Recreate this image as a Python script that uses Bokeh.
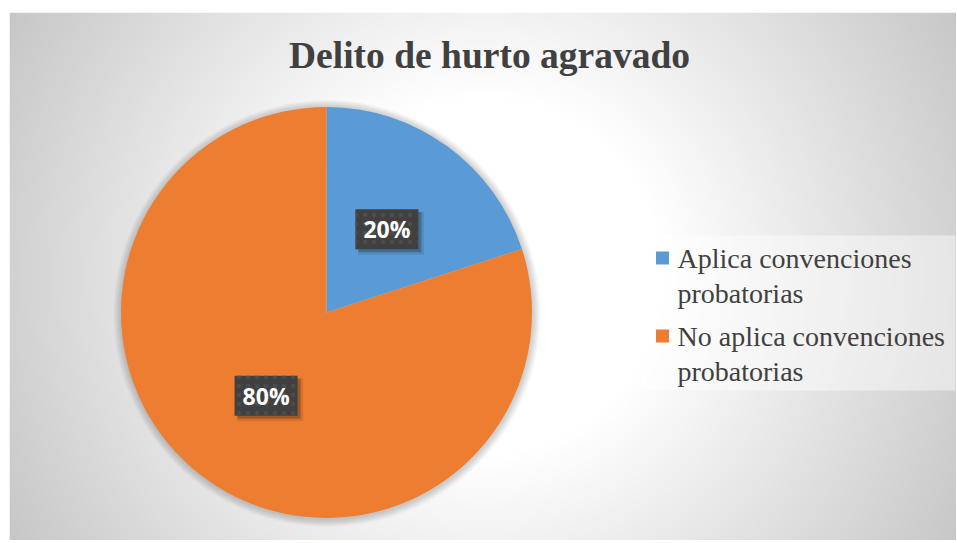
import numpy as np
from bokeh.plotting import figure
from bokeh.models import Range1d, Label, Spacer
from bokeh.layouts import column, row
from bokeh.embed import file_html
from bokeh.resources import INLINE
from bokeh.core.properties import value

# ---------------- data ----------------
chart_title = "Delito de hurto agravado"
categories = ["Aplica convenciones\nprobatorias", "No aplica convenciones\nprobatorias"]
values = [20, 80]
pct_labels = ["20%", "80%"]
colors = ["#5B9BD5", "#ED7D31"]

# ---------------- figure (1 data unit = 1 px) ----------------
W, H = 947, 528
p = figure(width=W, height=H, x_range=Range1d(0, W), y_range=Range1d(0, H),
           output_backend="svg", toolbar_location=None, min_border=0,
           x_axis_type=None, y_axis_type=None, outline_line_color=None)
p.background_fill_color = "white"
p.border_fill_color = "white"

# radial grey gradient background
ny, nx = 264, 474
xs = (np.arange(nx) + 0.5) * W / nx
ys = (np.arange(ny) + 0.5) * H / ny
X, Y = np.meshgrid(xs, ys)
gcx, gcy = 475, 264
d = np.hypot(X - gcx, Y - gcy)
t = np.clip((d - 180) / 370.0, 0, 1)
g = (255 - 57 * t).astype(np.uint8)
img = np.empty((ny, nx), dtype=np.uint32)
view = img.view(dtype=np.uint8).reshape((ny, nx, 4))
view[:, :, 0] = g
view[:, :, 1] = g
view[:, :, 2] = g
view[:, :, 3] = 255
p.image_rgba(image=[img], x=0, y=0, dw=W, dh=H)

# ---------------- pie ----------------
cx, cy, r = 317.0, 228, 205.5
fr = np.array(values, dtype=float) / sum(values)
ends = np.pi / 2 - 2 * np.pi * np.cumsum(fr)
starts = np.concatenate([[np.pi / 2], ends[:-1]])

# soft shadow around the pie
for k in range(1, 9):
    p.circle(x=[cx + 0.5], y=[cy - 1], radius=r + k, fill_color="black",
             fill_alpha=0.022, line_color=None)

p.wedge(x=cx, y=cy, radius=r, start_angle=starts, end_angle=ends,
        direction="clock", fill_color=colors, line_color=None)

# data labels
mid = (starts + ends) / 2
lx = cx + 0.5 * r * np.cos(mid)
ly = cy + 0.5 * r * np.sin(mid)
p.rect(x=lx + 4, y=ly - 4, width=66, height=43, fill_color="black",
       fill_alpha=0.10, line_color=None)
p.rect(x=lx + 3, y=ly - 3, width=63, height=40, fill_color="black",
       fill_alpha=0.22, line_color=None)
p.rect(x=lx, y=ly, width=63, height=40, fill_color="#404040", line_color=None,
       hatch_pattern="dot", hatch_color="#4c4c4c", hatch_scale=9, hatch_weight=2)
p.text(x=lx, y=ly, text=pct_labels, text_align="center", text_baseline="middle",
       text_font=value("Open Sans"), text_font_style="bold",
       text_font_size="23px", text_color="white")

# ---------------- legend ----------------
p.rect(x=[789], y=[227.5], width=314, height=155, fill_color="white",
       fill_alpha=0.45, line_color=None)
idx = np.arange(len(categories))
sq_y = 282.5 - 78 * idx
p.scatter(x=[653] * len(categories), y=sq_y, marker="square", size=13,
          fill_color=colors, line_color=None)
p.text(x=[668] * len(categories), y=297.5 - 78 * idx, text=categories,
       text_align="left", text_baseline="top", text_line_height=1.12,
       text_font=value("Liberation Serif"), text_font_size="28px",
       text_color="#404040")

# ---------------- title ----------------
p.add_layout(Label(x=480, y=485, text=chart_title, text_align="center",
                   text_baseline="alphabetic", text_font="Liberation Serif",
                   text_font_style="bold", text_font_size="37.5px",
                   text_color="#404040"))

layout = column(Spacer(width=W + 9, height=12), row(Spacer(width=9, height=H), p))
open("out.html", "w").write(file_html(layout, INLINE))
